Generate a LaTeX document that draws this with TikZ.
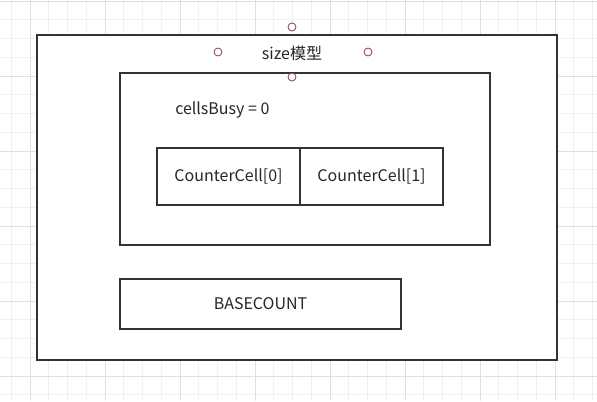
\documentclass[tikz,border=0pt]{standalone}
\usepackage{fontspec}
\setmainfont{Noto Sans CJK SC}
\definecolor{gridminor}{HTML}{F0F0F0}
\definecolor{gridmajor}{HTML}{E0E0E0}
\definecolor{boxline}{HTML}{333333}
\definecolor{handle}{HTML}{8B3A4A}
\begin{document}
\begin{tikzpicture}[x=0.75pt,y=-0.75pt,
  boxshape/.style={draw=boxline,line width=1.6pt,fill=white},
  lbl/.style={font=\fontsize{12}{14}\selectfont,text=black!85,inner sep=0pt},
  handledot/.style={circle,draw=handle,line width=0.6pt,fill=white,minimum size=6pt,inner sep=0pt}]
\useasboundingbox (0,0) rectangle (597,401);
\fill[white] (0,0) rectangle (597,401);
% grid
\foreach \i in {-1,...,32} {
  \draw[gridminor,line width=0.6pt] ({30+18.75*\i},0) -- ({30+18.75*\i},401);
}
\foreach \j in {0,...,21} {
  \draw[gridminor,line width=0.6pt] (0,{1+18.75*\j}) -- (597,{1+18.75*\j});
}
\foreach \i in {0,...,7} {
  \draw[gridmajor,line width=0.6pt] ({30+75*\i},0) -- ({30+75*\i},401);
}
\foreach \j in {0,...,5} {
  \draw[gridmajor,line width=0.6pt] (0,{1+75*\j}) -- (597,{1+75*\j});
}
% boxes
\draw[boxshape] (37,35) rectangle (557,360);
\draw[boxshape] (120,73) rectangle (490,245);
\node[lbl] (size) at (292,53) {size模型};
\node[lbl,anchor=west] (busy) at (175,110) {cellsBusy\ =\ 0};
\node[boxshape,lbl,minimum width=107.25pt,minimum height=42.75pt] (c0) at (228.5,176.5) {CounterCell[0]};
\node[boxshape,lbl,minimum width=107.25pt,minimum height=42.75pt] (c1) at (371.5,176.5) {CounterCell[1]};
\node[boxshape,lbl,minimum width=210.75pt,minimum height=37.5pt] (base) at (260.5,304) {BASECOUNT};
% handles
\node[handledot] (h1) at (292,27) {};
\node[handledot] (h2) at (218,52) {};
\node[handledot] (h3) at (368,52) {};
\node[handledot] (h4) at (292,77) {};
\end{tikzpicture}
\end{document}
